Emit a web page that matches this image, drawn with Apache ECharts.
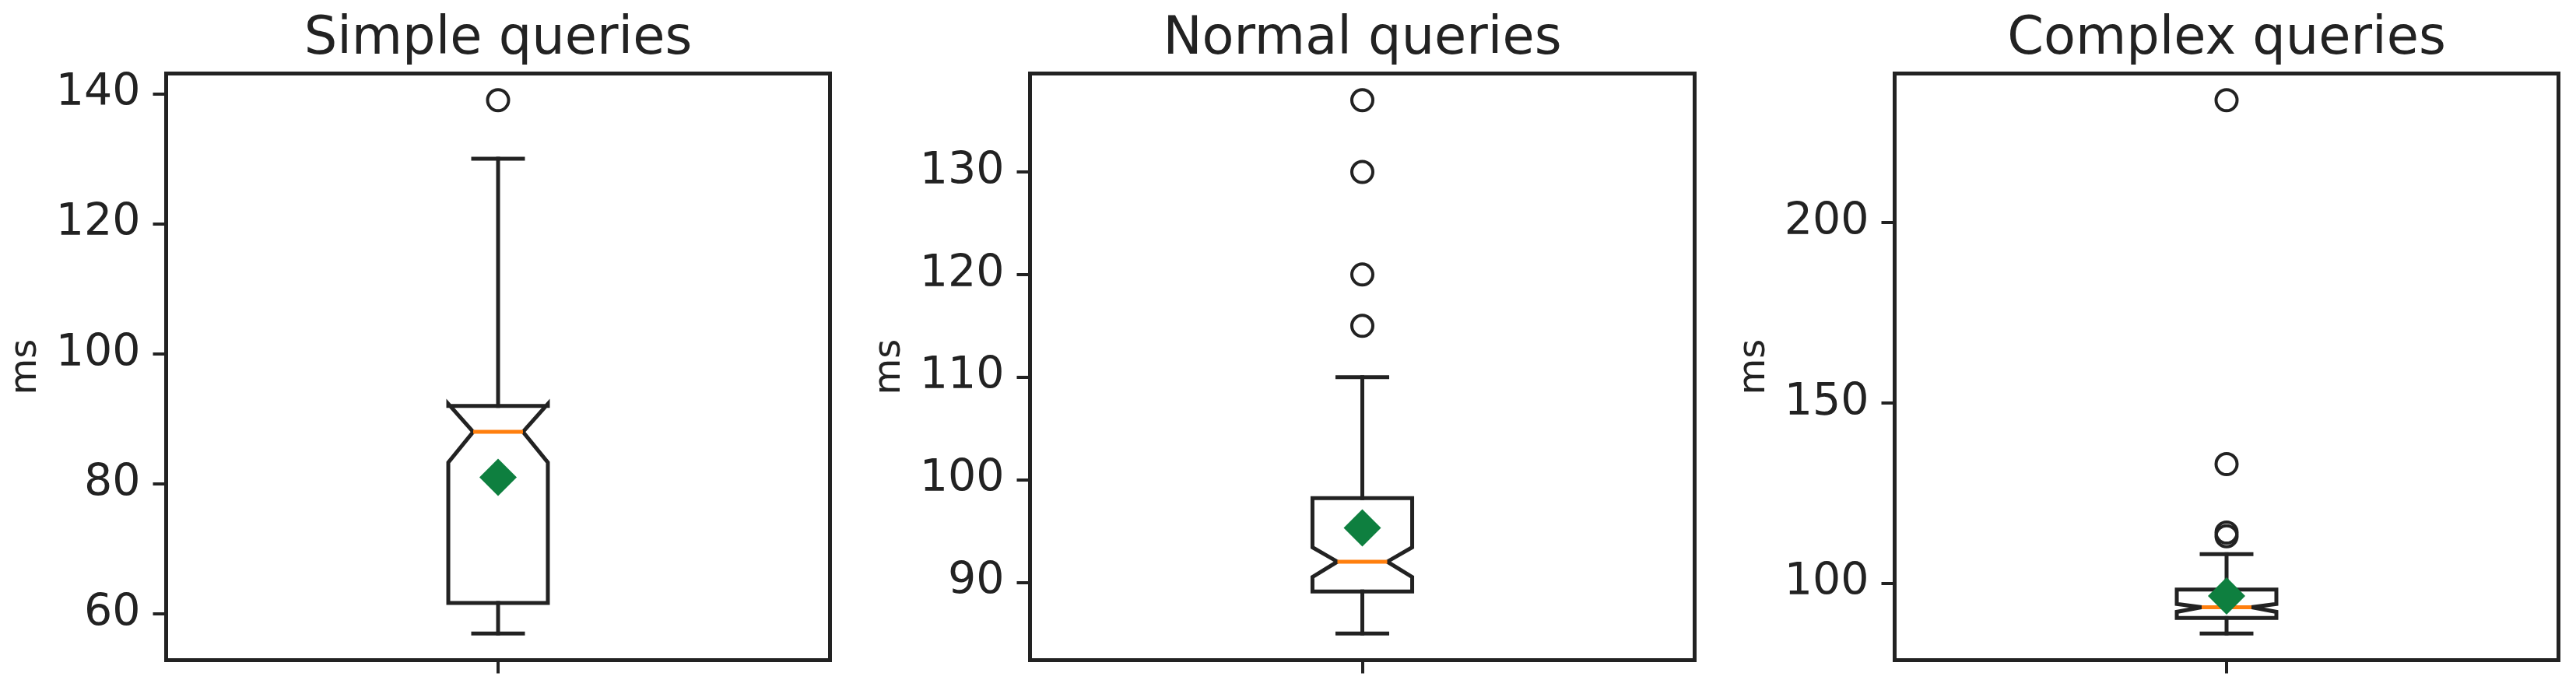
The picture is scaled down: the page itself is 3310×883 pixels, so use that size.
<!DOCTYPE html>
<html>
<head>
<meta charset="utf-8">
<script src="https://cdn.jsdelivr.net/npm/echarts@6/dist/echarts.min.js"></script>
<style>
html,body{margin:0;padding:0;background:#fff;}
#chart{width:3310px;height:883px;}
</style>
</head>
<body>
<div id="chart"></div>
<script>
// ---- data ----
const titles = ['Simple queries', 'Normal queries', 'Complex queries'];
const whiskerLo = [57, 85, 86];
const q1 = [61.7, 89.1, 90.3];
const notchLo = [83.3, 90.5, 92.0];
const medians = [88, 92, 93.3];
const notchHi = [92.3, 93.4, 94.2];
const q3 = [92, 98.2, 98.2];
const whiskerHi = [130, 110, 108];
const means = [81, 95.3, 96.4];
const outliers = [
  [139],
  [115, 120, 130, 137],
  [113, 114, 133, 234]
];
const yTicks = [
  [60, 80, 100, 120, 140],
  [90, 100, 110, 120, 130],
  [100, 150, 200]
];
const yLabel = 'ms';

// ---- layout / style ----
const INK = '#222222';
const FONT = 'DejaVu Sans';
const grids = [
  {left: 213.5, top: 94.5, width: 853, height: 754},
  {left: 1323.5, top: 94.5, width: 854, height: 754},
  {left: 2434.5, top: 94.5, width: 853, height: 754}
];
const BOXW = 0.15;

function range(i) {
  const vals = [whiskerLo[i], whiskerHi[i]].concat(outliers[i]);
  const lo = Math.min.apply(null, vals), hi = Math.max.apply(null, vals);
  const m = (hi - lo) * 0.05;
  return [lo - m, hi + m];
}

const option = {
  backgroundColor: '#ffffff',
  animation: false,
  title: [], grid: [], xAxis: [], yAxis: [], series: []
};

titles.forEach((t, i) => {
  const g = grids[i];
  const r = range(i);
  option.title.push({
    text: t, left: g.left + g.width / 2, top: 18, textAlign: 'center', padding: 0,
    textStyle: {fontFamily: FONT, fontSize: 67, fontWeight: 'normal', color: INK}
  });
  option.grid.push({
    left: g.left, top: g.top, width: g.width, height: g.height,
    show: true, borderColor: INK, borderWidth: 5, backgroundColor: 'transparent',
    containLabel: false
  });
  option.xAxis.push({
    type: 'value', gridIndex: i, min: 0.5, max: 1.5,
    axisLine: {show: false}, splitLine: {show: false},
    axisTick: {show: true, customValues: [1], length: 17, lineStyle: {color: INK, width: 4}},
    axisLabel: {show: false}
  });
  option.yAxis.push({
    type: 'value', gridIndex: i, min: r[0], max: r[1],
    axisLine: {show: false}, splitLine: {show: false},
    axisTick: {show: true, customValues: yTicks[i], length: 17, lineStyle: {color: INK, width: 4}},
    axisLabel: {show: true, customValues: yTicks[i], margin: 33,
      fontFamily: FONT, fontSize: 57, color: INK},
    name: yLabel, nameLocation: 'middle', nameGap: 156,
    nameTextStyle: {fontFamily: FONT, fontSize: 48, color: INK}
  });
  option.series.push({
    type: 'custom', xAxisIndex: i, yAxisIndex: i, z: 2,
    data: [[1, whiskerLo[i], q1[i], notchLo[i], medians[i], notchHi[i], q3[i], whiskerHi[i]]],
    encode: {x: 0, y: [1, 2, 3, 4, 5, 6, 7]},
    renderItem: function (params, api) {
      const x = api.value(0);
      const hw = api.size([BOXW, 0])[0] / 2;
      const nw = hw / 2;
      const c = (v) => api.coord([x, v]);
      const cx = c(api.value(1))[0];
      const yWlo = c(api.value(1))[1], yQ1 = c(api.value(2))[1], yNlo = c(api.value(3))[1];
      const yMed = c(api.value(4))[1], yNhi = c(api.value(5))[1], yQ3 = c(api.value(6))[1];
      const yWhi = c(api.value(7))[1];
      const L = cx - hw, R = cx + hw, nL = cx - nw, nR = cx + nw;
      const lineStyle = {stroke: INK, lineWidth: 5, fill: null, lineCap: 'square', lineJoin: 'miter'};
      return {
        type: 'group',
        children: [
          {type: 'line', shape: {x1: cx, y1: yQ1, x2: cx, y2: yWlo}, style: lineStyle},
          {type: 'line', shape: {x1: cx, y1: yQ3, x2: cx, y2: yWhi}, style: lineStyle},
          {type: 'line', shape: {x1: nL, y1: yWlo, x2: nR, y2: yWlo}, style: lineStyle},
          {type: 'line', shape: {x1: nL, y1: yWhi, x2: nR, y2: yWhi}, style: lineStyle},
          {type: 'polygon', shape: {points: [
            [L, yQ1], [R, yQ1], [R, yNlo], [nR, yMed], [R, yNhi], [R, yQ3],
            [L, yQ3], [L, yNhi], [nL, yMed], [L, yNlo]
          ]}, style: {stroke: INK, lineWidth: 5, fill: null, lineJoin: 'miter'}},
          {type: 'line', shape: {x1: nL, y1: yMed, x2: nR, y2: yMed},
            style: {stroke: '#ff7f0e', lineWidth: 5, lineCap: 'butt'}}
        ]
      };
    }
  });
  option.series.push({
    type: 'scatter', xAxisIndex: i, yAxisIndex: i, z: 3,
    symbol: 'circle', symbolSize: 27,
    itemStyle: {color: 'rgba(0,0,0,0)', borderColor: INK, borderWidth: 4, opacity: 1},
    data: outliers[i].map(v => [1, v])
  });
  option.series.push({
    type: 'scatter', xAxisIndex: i, yAxisIndex: i, z: 4,
    symbol: 'diamond', symbolSize: [48, 48],
    itemStyle: {color: '#0e7f3f', opacity: 1},
    data: [[1, means[i]]]
  });
});

const chart = echarts.init(document.getElementById('chart'), null, {renderer: 'canvas'});
chart.setOption(option);
</script>
</body>
</html>
